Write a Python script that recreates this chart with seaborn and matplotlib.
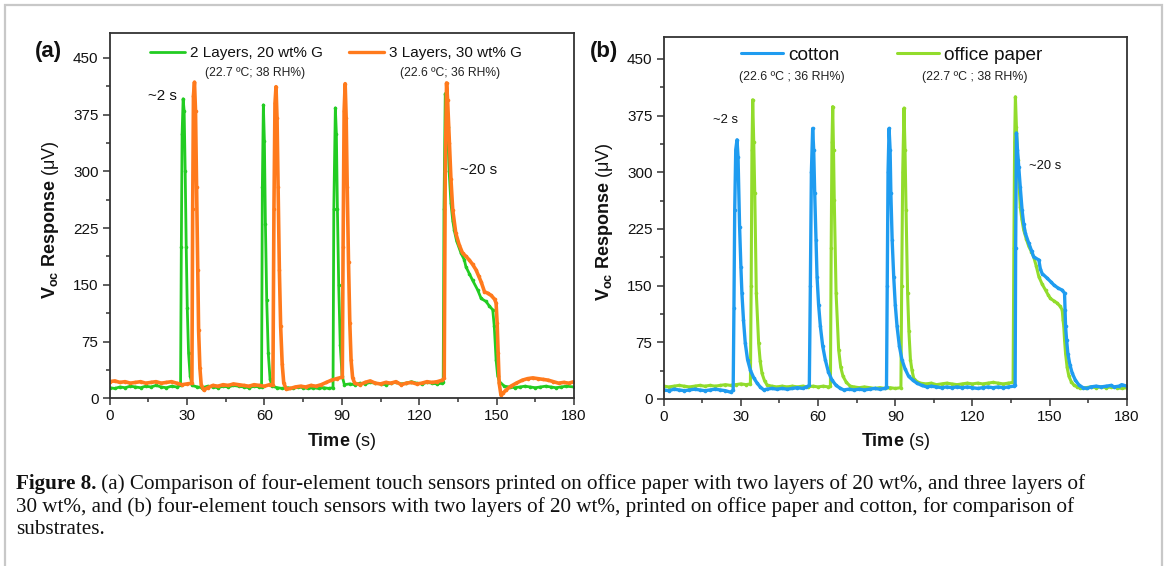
import numpy as np
import pandas as pd
import matplotlib
matplotlib.use("Agg")
import matplotlib.pyplot as plt
import seaborn as sns
from matplotlib.ticker import MultipleLocator
from matplotlib.patches import Rectangle
from matplotlib.lines import Line2D

# ---------------- data (time s, Voc uV) ----------------
green_a = [(0,14),(2,13),(4,15),(6,14),(8,16),(10,15),(12,14),(14,16),(16,15),(18,17),(20,15),(22,14),(24,16),(26,15),(27.5,17),
           (27.8,200),(28.1,350),(28.5,396),(28.9,380),(29.3,300),(29.7,200),(30.1,120),(30.6,60),(31.2,30),(32,17),
           (34,15),(36,14),(38,16),(40,15),(42,14),(44,16),(46,15),(48,17),(50,16),(52,15),(54,14),(56,16),(58,15),(58.9,15),
           (59.2,280),(59.6,388),(60.0,340),(60.4,230),(60.9,130),(61.5,60),(62.2,25),(63,16),
           (65,14),(67,13),(69,14),(71,13),(73,15),(75,14),(77,13),(79,14),(81,13),(83,14),(85,13),(86.6,14),
           (86.9,250),(87.5,384),(87.9,350),(88.3,250),(88.8,150),(89.4,70),(90.1,30),(91,18),
           (93,19),(95,18),(97,20),(99,19),(101,21),(103,20),(105,19),(107,18),(109,20),(111,21),(113,19),(115,20),(117,22),
           (119,20),(121,19),(123,21),(125,20),(127,19),(128.8,20),(129.3,21),
           (129.6,250),(130.1,403),(130.5,380),(131.0,359),(131.6,300),(132.3,258),(133.0,235),(133.6,222),(134.5,208),
           (136.2,192),(137.5,183),(138.1,174),(139.4,165),(140.7,156),(142.7,143),(144.0,132),(145.9,128),(147.2,122),
           (148.5,117),(149.1,95),(149.8,51),(150.4,30),(151.1,22),(153,16),(155,15),(157,14),(159,15),(161,16),(163,15),
           (165,14),(167,15),(169,16),(171,15),(173,14),(175,15),(177,16),(180,15)]

orange_a = [(0,22),(2,23),(4,21),(6,22),(8,20),(10,21),(12,22),(14,20),(16,21),(18,22),(20,20),(22,21),(24,22),(26,20),(28,18),(30,19),(31.9,20),
            (32.2,250),(32.5,400),(32.9,418),(33.3,380),(33.7,280),(34.1,170),(34.5,90),(35.0,40),(35.5,18),(36.5,11),(38,14),
            (40,17),(42,16),(44,18),(46,17),(48,19),(50,18),(52,17),(54,16),(56,18),(58,17),(60,16),(62,18),(63.3,18),
            (63.7,250),(64.1,390),(64.5,412),(64.9,370),(65.3,280),(65.8,170),(66.3,95),(66.9,45),(67.5,20),(68.5,12),
            (70,13),(72,15),(74,16),(76,15),(78,17),(80,16),(82,18),(84,21),(86,24),(88,26),(90.2,28),
            (90.5,200),(90.9,380),(91.3,416),(91.7,370),(92.1,280),(92.6,180),(93.1,100),(93.6,50),(94.2,27),(95,20),
            (97,18),(99,21),(101,23),(103,20),(105,19),(107,21),(109,20),(111,22),(113,18),(115,20),(117,21),(119,19),
            (121,20),(123,22),(125,21),(127,22),(129,24),(129.7,27),
            (130.1,300),(130.6,417),(131.0,395),(131.7,337),(132.3,290),(133.0,249),(134.2,218),(135.5,203),(136.8,192),
            (138,188),(139.4,183),(140.7,177),(142,170),(143,162),(144,154),(145.3,141),(146.5,139),(147.9,136),(149.2,131),
            (149.8,126),(150.2,100),(150.6,60),(151.0,20),(151.7,4),(152.5,7),(153.7,11),(155.5,16),(157.6,20),(160,24),
            (162,26),(164,27),(166,26),(168,25),(170,24),(172,22),(174,20),(176,21),(178,20),(180,22)]

cotton_b = [(0,12),(2,11),(4,13),(6,12),(8,11),(10,12),(12,13),(14,12),(16,11),(18,12),(20,13),(22,12),(24,11),(26,9),(27.0,12),
            (27.3,120),(27.6,250),(28.0,330),(28.5,343),(28.9,320),(29.5,228),(30.0,175),(30.4,140),(31.0,105),(31.7,74),
            (32.6,52),(33.7,38),(35,28),(36.3,21),(37.5,16),(38.9,12),(40,13),(42,14),(44,13),(46,14),(48,13),(50,14),
            (52,15),(54,14),(55.5,16),(56.6,18),
            (57.0,150),(57.4,300),(57.9,358),(58.3,330),(58.7,272),(59.2,210),(59.6,162),(60.2,125),(60.9,96),(61.8,70),
            (62.8,52),(64,36),(65.4,25),(67,18),(68.7,14),(70,12),(72,13),(74,12),(76,13),(78,12),(80,13),(82,14),(84,13),
            (86,14),(86.6,16),
            (86.9,150),(87.2,300),(87.6,358),(88.0,330),(88.3,272),(88.8,210),(89.4,162),(90.0,125),(90.7,96),(91.6,70),
            (92.6,52),(93.8,40),(95.2,30),(96.8,25),(98.4,21),(100.3,18),(102.3,16),(104,17),(106,16),(108,15),(110,16),
            (112,15),(114,16),(116,15),(118,16),(120,15),(122,14),(124,15),(126,16),(128,15),(130,16),(132,15),(134,16),
            (136,17),(136.6,18),
            (136.8,200),(137.1,352),(137.5,330),(138.0,307),(138.6,280),(139.3,250),(139.9,232),(140.6,219),(141.9,206),
            (143.0,196),(143.8,188),(145.8,184),(146.4,172),(147.1,166),(149.0,160),(150.5,155),(151.6,151),(153.2,147),
            (154.9,144),(155.8,140),(156.0,118),(156.2,96),(156.6,78),(157.1,60),(157.9,45),(158.8,34),(160,25),(161.4,18.5),
            (163,15),(164.6,14),(166,16),(168,17),(170,16),(172,17),(174,18),(175,16),(177,17),(178,19),(180,17)]

paper_b = [(0,17),(2,16),(4,17),(6,18),(8,17),(10,16),(12,17),(14,18),(16,17),(18,18),(20,17),(22,18),(24,19),(26,18),(28,19),
           (30,20),(32,19),(33.7,20),
           (34.0,150),(34.3,330),(34.6,396),(35.0,340),(35.4,272),(36.0,140),(36.9,74),(37.5,50),(38.2,34),(39.2,24),
           (40.2,18.5),(42,17),(44,16),(46,17),(48,16),(50,17),(52,16),(54,17),(56,16),(58,17),(60,16),(62,17),(64,16),(64.8,17),
           (65.1,200),(65.4,340),(65.7,387),(66.0,330),(66.3,263),(67.0,140),(68.0,65),(68.8,42),(69.7,30),(71,22),(72.5,17),
           (74,16),(76,15),(78,16),(80,15),(82,14),(84,15),(86,14),(88,15),(90,14),(92.2,15),
           (92.5,150),(92.9,300),(93.4,385),(93.8,330),(94.2,250),(94.8,140),(95.3,90),(95.9,52),(96.5,38),(97.2,27),
           (98.5,23),(99.7,21),(102,20),(104,21),(106,19),(108,20),(110,21),(112,20),(114,19),(116,20),(118,21),(120,20),
           (122,21),(124,20),(126,21),(128,22),(130,21),(132,20),(134,21),(135.8,22),
           (136.1,200),(136.4,340),(136.7,400),(137.1,360),(137.6,316),(138.6,254),(139.2,238),(139.9,224),(140.9,212),
           (141.9,202),(142.9,195),(143.8,188),(144.8,176),(145.8,162),(147.1,152),(148.4,144),(149.4,138),(150.3,133),
           (151.6,130),(152.9,127),(154.0,123),(154.9,118),(155.2,105),(155.5,96),(155.8,78),(156.2,60),(156.8,42),
           (157.5,30),(158.4,23),(159.4,18.5),(160.7,16),(162,14),(164,15),(166,16),(168,15),(170,16),(172,15),(174,16),
           (176,15),(178,14),(180,15)]

labels_a = ["2 Layers, 20 wt% G", "3 Layers, 30 wt% G"]
conds_a = ["(22.7 ºC; 38 RH%)", "(22.6 ºC; 36 RH%)"]
labels_b = ["cotton", "office paper"]
conds_b = ["(22.6 ºC ; 36 RH%)", "(22.7 ºC ; 38 RH%)"]
x_ticks = [0, 30, 60, 90, 120, 150, 180]
y_ticks = [0, 75, 150, 225, 300, 375, 450]

C_GREEN = "#22cc22"
C_ORANGE = "#ff7a1c"
C_BLUE = "#1f9cf0"
C_LIME = "#92dc2c"

# ---------------- style ----------------
sns.set_theme(style="ticks")
plt.rcParams['font.family'] = ['Liberation Sans', 'DejaVu Sans']
plt.rcParams['mathtext.fontset'] = 'custom'
plt.rcParams['mathtext.rm'] = 'Liberation Sans'
plt.rcParams['mathtext.bf'] = 'Liberation Sans:bold'
plt.rcParams['mathtext.it'] = 'Liberation Sans:italic'

W, H = 1166, 566
fig = plt.figure(figsize=(W / 100, H / 100), dpi=100)
fig.patch.set_facecolor("white")

def box(l, t, r, b):
    return [l / W, 1 - b / H, (r - l) / W, (b - t) / H]

axA = fig.add_axes(box(109.6, 33, 574, 398.3))
axB = fig.add_axes(box(663.7, 37, 1126.8, 399))

def draw(ax, pts, color, lw):
    df = pd.DataFrame(pts, columns=["t", "v"])
    sns.lineplot(data=df, x="t", y="v", ax=ax, color=color, lw=lw, marker="o",
                 markersize=2.6, markeredgewidth=0, estimator=None, sort=False,
                 legend=False)

draw(axA, green_a, C_GREEN, 2.0)
draw(axA, orange_a, C_ORANGE, 2.6)
draw(axB, paper_b, C_LIME, 2.2)
draw(axB, cotton_b, C_BLUE, 2.4)

for ax, ytop in ((axA, 483), (axB, 479)):
    ax.set_xlim(0, 180)
    ax.set_ylim(0, ytop)
    ax.set_xticks(x_ticks)
    ax.set_yticks(y_ticks)
    ax.xaxis.set_minor_locator(MultipleLocator(15))
    ax.yaxis.set_minor_locator(MultipleLocator(37.5))
    ax.tick_params(which='major', direction='out', length=5, width=1.1, labelsize=11,
                   color='#333333', labelcolor='#111111', pad=3)
    ax.tick_params(which='minor', direction='out', length=3, width=1.1, color='#333333')
    ax.tick_params(which='both', top=False, right=False)
    for s in ax.spines.values():
        s.set_color('#333333')
        s.set_linewidth(1.3)
    ax.set_xlabel(r'$\mathbf{Time}$ (s)', fontsize=13, color='#111111')
    ax.set_ylabel(r'$\mathbf{V_{oc}\ Response}$ (μV)', fontsize=13, color='#111111')
    ax.xaxis.label.set_va('center')
    ax.yaxis.label.set_va('center')
    ax.set_facecolor('white')

axA.xaxis.set_label_coords(0.5, (398.3 - 441) / 365.3)
axA.yaxis.set_label_coords((51 - 109.6) / 464.4, 0.49)
axB.xaxis.set_label_coords(0.5, (399 - 441) / 362)
axB.yaxis.set_label_coords((604 - 663.7) / 463.1, 0.49)

# legends
hA = [Line2D([], [], color=C_GREEN, lw=2.0), Line2D([], [], color=C_ORANGE, lw=2.4)]
legA = axA.legend(hA, labels_a, ncol=2, loc='center left', bbox_to_anchor=(0.087, 0.945),
                  frameon=False, fontsize=11, handlelength=2.3, handletextpad=0.33,
                  columnspacing=1.7, borderpad=0, borderaxespad=0)
hB = [Line2D([], [], color=C_BLUE, lw=2.2), Line2D([], [], color=C_LIME, lw=2.2)]
legB = axB.legend(hB, labels_b, ncol=2, loc='center left', bbox_to_anchor=(0.167, 0.950),
                  frameon=False, fontsize=13.7, handlelength=2.2, handletextpad=0.26,
                  columnspacing=3.05, borderpad=0, borderaxespad=0)
for lg in (legA, legB):
    for t in lg.get_texts():
        t.set_color('#111111')

axA.text(0.313, 0.890, conds_a[0], transform=axA.transAxes, ha='center', va='center', fontsize=8.7, color='#222222')
axA.text(0.733, 0.890, conds_a[1], transform=axA.transAxes, ha='center', va='center', fontsize=8.7, color='#222222')
axB.text(0.276, 0.890, conds_b[0], transform=axB.transAxes, ha='center', va='center', fontsize=8.9, color='#222222')
axB.text(0.672, 0.890, conds_b[1], transform=axB.transAxes, ha='center', va='center', fontsize=8.9, color='#222222')

# annotations
axA.text(20.3, 400, "~2 s", ha='center', va='center', fontsize=10.9, color='#111111')
axA.text(143, 302, "~20 s", ha='center', va='center', fontsize=10.8, color='#111111')
axB.text(24.0, 369, "~2 s", ha='center', va='center', fontsize=9.4, color='#111111')
axB.text(148.2, 308, "~20 s", ha='center', va='center', fontsize=9.3, color='#111111')

# panel letters
fig.text(48.5 / W, 1 - 52 / H, "(a)", fontsize=16, fontweight='bold', ha='center', va='center', color='#111111')
fig.text(604 / W, 1 - 52 / H, "(b)", fontsize=16, fontweight='bold', ha='center', va='center', color='#111111')

# outer frame
fig.add_artist(Rectangle((5 / W, -0.02), (1162 - 5) / W, 1 - 5 / H + 0.02, transform=fig.transFigure,
                         fill=False, ec='#c8c8c8', lw=1.6))

# caption
cap_bold = "Figure 8."
cap_lines = [" (a) Comparison of four-element touch sensors printed on office paper with two layers of 20 wt%, and three layers of",
             "30 wt%, and (b) four-element touch sensors with two layers of 20 wt%, printed on office paper and cotton, for comparison of",
             "substrates."]
serif = ['Liberation Serif', 'DejaVu Serif']
renderer = fig.canvas.get_renderer()
fs = 14.0
x0 = 16 / W
tb = fig.text(x0, 1 - 484 / H, cap_bold, fontsize=fs, fontweight='bold', family=serif, va='center', color='#111111')
tr = fig.text(x0, 1 - 484 / H, cap_lines[0], fontsize=fs, family=serif, va='center', color='#111111')
wtot = tb.get_window_extent(renderer).width + tr.get_window_extent(renderer).width
fs = fs * (1088 - 16) / wtot
tb.set_fontsize(fs)
tr.set_fontsize(fs)
wb = tb.get_window_extent(renderer).width
tr.set_x(x0 + wb / W)
fig.text(x0, 1 - 507 / H, cap_lines[1], fontsize=fs, family=serif, va='center', color='#111111')
fig.text(x0, 1 - 530 / H, cap_lines[2], fontsize=fs, family=serif, va='center', color='#111111')

fig.savefig("out.png", dpi=100, facecolor='white')
